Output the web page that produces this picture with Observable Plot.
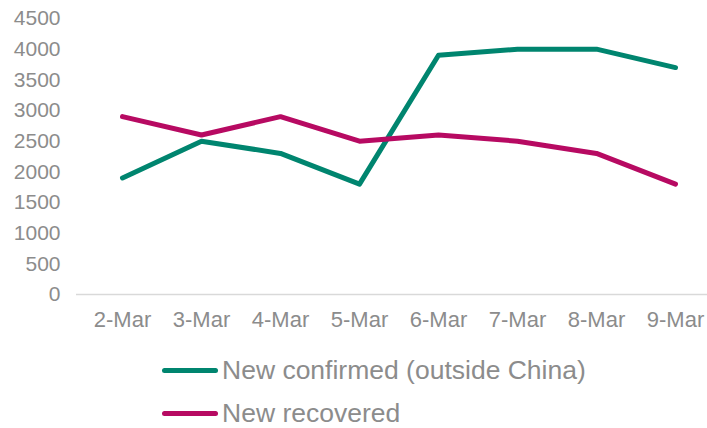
<!DOCTYPE html>
<html>
<head>
<meta charset="utf-8">
<script src="https://cdn.jsdelivr.net/npm/d3@7"></script>
<script src="https://cdn.jsdelivr.net/npm/@observablehq/plot@0.6"></script>
<style>
  html, body { margin: 0; padding: 0; background: #fff; width: 707px; height: 428px; overflow: hidden; }
  body { font-family: "Liberation Sans", Arial, sans-serif; }
  #chart svg { display: block; overflow: hidden; }
  .legend { padding-left: 162px; padding-top: 8.5px; }
  .row { height: 43px; display: flex; align-items: center; }
  .sw { width: 56px; height: 5px; border-radius: 3px; margin-right: 4px; }
  .lab { font-size: 26.5px; color: #8c8c8c; line-height: 0.85; white-space: nowrap; }
</style>
</head>
<body>
<div id="chart"></div>
<div class="legend" id="legend"></div>
<script>
const dates = ["2-Mar", "3-Mar", "4-Mar", "5-Mar", "6-Mar", "7-Mar", "8-Mar", "9-Mar"];
const confirmed = [1900, 2500, 2300, 1800, 3900, 4000, 4000, 3700];
const recovered = [2900, 2600, 2900, 2500, 2600, 2500, 2300, 1800];
const seriesNames = ["New confirmed (outside China)", "New recovered"];
const seriesColors = ["#00856f", "#b70a62"];
const yTicks = [0, 500, 1000, 1500, 2000, 2500, 3000, 3500, 4000, 4500];

const rows = [];
[confirmed, recovered].forEach((vals, s) => {
  vals.forEach((v, i) => rows.push({date: dates[i], value: v, series: seriesNames[s]}));
});

const chart = Plot.plot({
  width: 707,
  height: 340,
  marginLeft: 76,
  marginRight: 0,
  marginTop: 18,
  marginBottom: 46,
  style: {fontFamily: "Liberation Sans, Arial, sans-serif", color: "#8c8c8c", background: "#fff"},
  x: {type: "point", domain: dates, range: [80, 717], padding: 0.5},
  y: {domain: [0, 4500]},
  color: {domain: seriesNames, range: seriesColors},
  marks: [
    Plot.ruleY([0], {stroke: "#d9d9d9", strokeWidth: 1.5}),
    Plot.axisY({ticks: yTicks, tickFormat: d => String(d), tickSize: 0, tickPadding: 16, fontSize: 21, label: null, fill: "#8c8c8c"}),
    Plot.axisX({tickSize: 0, tickPadding: 17, fontSize: 22, label: null, fill: "#8c8c8c"}),
    Plot.line(rows, {x: "date", y: "value", z: "series", stroke: "series", strokeWidth: 5, strokeLinecap: "round", strokeLinejoin: "round"})
  ]
});
document.getElementById("chart").appendChild(chart);

const legend = document.getElementById("legend");
seriesNames.forEach((n, i) => {
  const r = document.createElement("div");
  r.className = "row";
  r.innerHTML = `<div class="sw" style="background:${seriesColors[i]}"></div><div class="lab">${n}</div>`;
  legend.appendChild(r);
});
</script>
</body>
</html>
